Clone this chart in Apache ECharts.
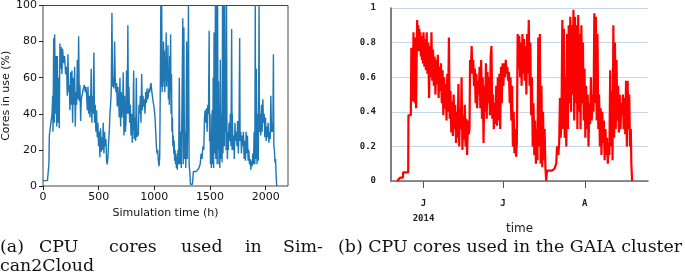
<!DOCTYPE html>
<html>
<head>
<meta charset="utf-8">
<script src="https://cdn.jsdelivr.net/npm/echarts@6/dist/echarts.min.js"></script>
<style>
  html, body { margin: 0; padding: 0; background: #fff; }
  #chart { width: 685px; height: 276px; }
</style>
</head>
<body>
<div id="chart"></div>
<script>
// (a) Simcan2Cloud: [hour, cores in use %]
const simcanTrace = [
  [0,3],[10,3],[20,3],[30,3],[40,3],[48,3],[53,12],[57,28],[65,29],[72,29],[81,40],[87,50],[90,30],[96,82],[102,35],[105,84],[111,40],[117,72],[123,33],[129,72],[135,35],[141,60],[146,32],[152,79],[158,65],[164,77],[170,62],[176,76],[185,68],[194,72],[203,62],[212,66],[218,50],[224,73],[230,52],[236,56],[242,42],[248,63],[254,45],[260,64],[266,35],[272,60],[278,45],[284,66],[290,33],[296,52],[302,45],[308,70],[314,48],[320,83],[326,47],[332,56],[338,36],[344,48],[353,47],[362,54],[371,56],[380,52],[386,55],[392,50],[398,42],[404,55],[410,40],[416,50],[422,38],[427,45],[433,65],[439,35],[445,50],[451,40],[457,74],[463,35],[469,45],[475,30],[481,42],[487,27],[493,35],[499,22],[505,30],[511,16],[517,32],[523,19],[529,27],[535,20],[541,35],[547,18],[553,30],[559,22],[565,26],[571,14],[577,12],[583,16],[589,24],[595,30],[601,40],[607,45],[613,53],[619,96],[625,55],[631,60],[637,54],[643,80],[649,58],[655,52],[661,57],[667,44],[673,55],[679,47],[685,38],[691,60],[697,33],[703,52],[709,38],[715,45],[721,63],[727,28],[733,50],[739,30],[745,35],[750,64],[756,40],
  [762,89],[767,40],[772,55],[778,35],[784,45],[790,28],[796,40],[802,24],[808,35],[814,64],[820,26],[826,38],[832,25],[838,60],[844,27],[850,30],[856,28],[862,45],[868,40],[874,50],[880,35],[886,62],[892,42],[898,50],[904,44],[910,48],[916,40],[922,52],[928,46],[934,54],[940,48],[946,50],[952,54],[958,52],[964,55],[970,57],[976,53],[982,50],[988,47],[994,45],[1000,42],[1006,38],[1012,30],[1018,22],[1024,18],[1030,20],[1036,14],[1042,11],[1048,16],[1054,60],[1058,100],[1062,55],[1066,100],[1070,52],[1074,70],[1078,55],[1082,80],[1086,58],[1090,75],[1094,52],[1098,65],[1102,60],[1106,85],[1110,55],[1114,70],[1118,58],[1122,78],[1126,48],[1130,65],[1134,45],[1138,72],[1142,52],[1146,84],[1150,40],[1154,62],[1158,30],[1162,38],[1166,22],[1170,28],[1174,18],[1178,25],[1182,14],[1186,20],[1190,12],[1194,18],[1198,10],[1202,16],[1206,9],[1212,20],[1218,12],[1224,60],[1230,12],[1236,30],[1242,10],[1248,45],[1255,93],[1259,12],[1265,88],[1270,15],[1276,30],[1282,10],[1290,80],[1295,15],[1300,40],[1306,100],[1312,12],[1318,8],[1324,1],[1332,1],[1342,1],[1350,8],[1362,8],[1375,8],[1388,9],[1400,10],
  [1411,12],[1420,18],[1428,15],[1436,22],[1444,20],[1450,38],[1456,42],[1462,35],[1468,43],[1474,30],[1480,45],[1486,40],[1492,86],[1496,25],[1500,40],[1504,12],[1508,30],[1512,10],[1516,38],[1520,42],[1524,12],[1528,60],[1532,10],[1536,85],[1540,18],[1544,45],[1548,100],[1552,15],[1556,100],[1560,30],[1564,12],[1568,100],[1572,20],[1576,58],[1580,12],[1584,35],[1588,10],[1592,70],[1596,30],[1600,15],[1604,40],[1608,13],[1612,100],[1616,18],[1620,35],[1624,100],[1628,22],[1632,100],[1636,30],[1640,60],[1644,20],[1648,100],[1652,25],[1656,15],[1660,30],[1664,20],[1670,35],[1676,25],[1682,40],[1688,22],[1694,87],[1698,20],
  [1700,40],[1706,20],[1712,28],[1718,15],[1724,35],[1730,25],[1736,30],[1742,22],[1748,36],[1754,18],[1760,30],[1766,82],[1770,25],[1776,30],[1782,18],[1788,28],[1794,22],[1800,30],[1806,15],[1812,25],[1818,14],[1824,30],[1830,18],[1836,28],[1842,14],[1848,20],[1854,12],[1860,15],[1866,9],[1872,14],[1878,11],[1884,18],[1890,12],[1896,30],[1902,12],[1906,100],[1910,15],[1916,65],[1922,12],[1928,40],[1934,14],[1940,100],[1944,30],[1950,40],[1956,28],[1962,45],[1968,30],[1974,48],[1980,35],[1986,40],[1992,27],[1998,38],[2004,25],[2010,33],[2016,27],[2022,35],[2028,24],[2034,30],[2040,26],[2046,50],[2052,30],[2058,35],[2064,30],[2069,73],[2073,22],[2078,20],[2083,13],[2088,15],[2094,5],[2099,0]
];
const simcanXTicks = [0, 500, 1000, 1500, 2000];

// (b) GAIA cluster: [days from 1 June 2014, fraction of cores]
const gaiaTrace = [
  [-10,0],[-8.8,0.02],[-7.8,0.02],[-7.7,0.05],[-5.8,0.05],[-5.7,0.38],[-4.8,0.38],
  [-4.6,0.77],[-4.4,0.5],[-4.2,0.75],[-4.0,0.46],[-3.8,0.86],[-3.6,0.55],[-3.4,0.8],[-3.2,0.45],[-3.0,0.83],[-2.8,0.42],[-2.6,0.7],[-2.4,0.93],[-2.2,0.78],[-2.0,0.9],[-1.8,0.75],[-1.6,0.88],[-1.4,0.76],[-1.2,0.86],[-1.0,0.72],[-0.8,0.84],[-0.6,0.7],[-0.4,0.8],[-0.2,0.68],[0,0.86],[0.3,0.66],[0.6,0.82],[0.9,0.64],[1.2,0.86],[1.5,0.62],[1.8,0.8],[2.1,0.48],[2.4,0.78],[2.7,0.6],[3.0,0.86],[3.3,0.58],[3.6,0.76],[3.9,0.55],[4.2,0.72],[4.5,0.5],[4.8,0.7],[5.1,0.56],[5.4,0.73],[5.7,0.48],[6.0,0.66],[6.3,0.52],[6.6,0.68],[6.9,0.45],[7.2,0.64],[7.5,0.38],[7.8,0.6],[8.1,0.42],[8.4,0.56],[8.7,0.35],[9.0,0.62],[9.3,0.4],[9.6,0.83],[9.9,0.36],[10.2,0.52],[10.5,0.28],[10.8,0.46],[11.1,0.26],[11.4,0.5],[11.7,0.3],[12.0,0.44],[12.3,0.22],[12.6,0.4],[12.9,0.25],[13.2,0.56],[13.5,0.2],[13.8,0.42],[14.1,0.3],[14.4,0.6],[14.7,0.18],[15.0,0.38],[15.3,0.24],[15.6,0.44],[15.9,0.2],[16.2,0.36],[16.5,0.15],[16.8,0.35],[17.1,0.27],[17.4,0.3],
  [17.6,0.7],[17.9,0.62],[18.2,0.78],[18.5,0.62],[18.8,0.7],[19.1,0.55],[19.4,0.65],[19.7,0.45],[20.0,0.62],[20.3,0.42],[20.6,0.58],[20.9,0.5],[21.2,0.66],[21.5,0.42],[21.8,0.7],[22.1,0.36],[22.4,0.6],[22.7,0.22],[23.0,0.55],[23.3,0.4],[23.6,0.68],[23.9,0.36],[24.2,0.63],[24.5,0.45],[24.8,0.6],[25.1,0.38],[25.4,0.72],[25.7,0.78],[26.0,0.36],[26.3,0.5],[26.6,0.3],[26.9,0.45],[27.2,0.33],[27.5,0.55],[27.8,0.32],[28.1,0.6],[28.4,0.35],[28.7,0.62],[29.0,0.3],[29.3,0.66],[29.6,0.45],[29.9,0.68],[30.2,0.55],[30.5,0.68],[30.8,0.6],[31.1,0.7],[31.4,0.62],[31.7,0.66],[32.0,0.58],[32.3,0.63],[32.6,0.45],[32.9,0.6],[33.2,0.35],[33.5,0.55],[33.8,0.2],[34.1,0.4],[34.4,0.16],[34.7,0.3],[35.0,0.14],[35.3,0.22],
  [35.6,0.85],[35.9,0.65],[36.2,0.84],[36.5,0.6],[36.8,0.8],[37.1,0.55],[37.4,0.85],[37.7,0.62],[38.0,0.82],[38.3,0.58],[38.6,0.78],[38.9,0.5],[39.2,0.85],[39.5,0.62],[39.8,0.93],[40.1,0.55],[40.4,0.8],[40.7,0.38],[41.0,0.6],[41.3,0.2],[41.6,0.45],[41.9,0.15],[42.2,0.35],[42.5,0.1],[42.8,0.3],[43.1,0.12],[43.4,0.83],[43.7,0.2],[44.0,0.85],[44.3,0.1],[44.6,0.55],[44.9,0.08],[45.2,0.4],[45.5,0.12],[45.8,0.3],[46.1,0.08],[46.4,0.0],[46.7,0.06],[48.5,0.06],[49.5,0.07],[50.2,0.1],[50.5,0.2],[51.0,0.15],[51.3,0.22],[51.6,0.48],[51.9,0.25],[52.2,0.4],
  [52.5,0.93],[52.8,0.3],[53.1,0.88],[53.4,0.25],[53.7,0.6],[54.0,0.2],[54.3,0.85],[54.6,0.3],[54.9,0.9],[55.2,0.45],[55.5,0.95],[55.8,0.4],[56.1,0.9],[56.4,0.5],[56.7,0.99],[57.0,0.35],[57.3,0.95],[57.6,0.45],[57.9,0.9],[58.2,0.3],[58.5,0.96],[58.8,0.4],[59.1,0.85],[59.4,0.3],[59.7,0.9],[60.0,0.45],[60.3,0.8],[60.6,0.35],[60.9,0.65],[61.2,0.25],[61.5,0.55],[61.8,0.3],[62.1,0.5],[62.4,0.2],[62.7,0.45],[63.0,0.33],[63.3,0.6],[63.6,0.35],[64.0,0.5],[64.3,0.4],[64.6,0.97],[64.9,0.45],[65.2,0.95],[65.5,0.35],[65.8,0.85],[66.1,0.3],[66.4,0.5],[66.7,0.2],[67.0,0.42],[67.3,0.15],[67.6,0.4],[67.9,0.22],[68.2,0.35],[68.5,0.12],[68.8,0.3],[69.1,0.15],[69.4,0.25],[69.7,0.1],[70.0,0.22],[70.3,0.15],[70.6,0.64],[70.9,0.2],[71.2,0.52],[71.5,0.12],[71.8,0.9],[72.1,0.25],[72.4,0.8],[72.7,0.3],[73.0,0.7],[73.3,0.35],[73.6,0.55],[73.9,0.28],[74.2,0.5],[74.5,0.3],[74.8,0.45],[75.1,0.38],[75.4,0.5],[75.7,0.3],[76.0,0.48],[76.3,0.27],[76.6,0.58],[76.9,0.2],[77.2,0.58],[77.5,0.3],[77.8,0.5],[78.1,0.2],[78.4,0.3],[78.6,0.1],[78.9,0]
];
// month ticks: 1 June, 1 July, 1 August
const gaiaMonthTicks = [0, 30, 61];
const gaiaMonthLabels = ['J\n2014', 'J', 'A'];

const chart = echarts.init(document.getElementById('chart'));

const mono = 'DejaVu Sans Mono';
const sans = 'DejaVu Sans';
const captionFont = '17.4px DejaVu Serif';

chart.setOption({
  animation: false,
  grid: [
    { left: 43, top: 4, width: 245, height: 182, show: true, borderColor: '#444', borderWidth: 1, backgroundColor: 'transparent' },
    { left: 391, top: 8, width: 257, height: 173 }
  ],
  xAxis: [
    {
      gridIndex: 0, type: 'value', min: 0, max: 2200,
      axisLine: { show: false },
      axisTick: { show: true, length: 4, lineStyle: { color: '#222' }, customValues: simcanXTicks },
      axisLabel: { color: '#111', fontFamily: sans, fontSize: 11, margin: 6, customValues: simcanXTicks, formatter: (v) => String(v) },
      splitLine: { show: false },
      name: 'Simulation time (h)', nameLocation: 'middle', nameGap: 21,
      nameTextStyle: { color: '#111', fontFamily: sans, fontSize: 11 }
    },
    {
      gridIndex: 1, type: 'value', min: -12.3, max: 84.9,
      axisLine: { show: true, onZero: false, lineStyle: { color: '#6a6a6a', width: 1.5 } },
      axisTick: { show: true, length: 7, lineStyle: { color: '#555', width: 1 }, customValues: gaiaMonthTicks },
      axisLabel: {
        color: '#222', fontFamily: mono, fontWeight: 'bold', fontSize: 9, margin: 15, lineHeight: 15,
        customValues: gaiaMonthTicks,
        formatter: (v) => gaiaMonthLabels[gaiaMonthTicks.indexOf(v)]
      },
      splitLine: { show: false },
      name: 'time', nameLocation: 'middle', nameGap: 42, nameMoveOverlap: false,
      nameTextStyle: { color: '#222', fontFamily: sans, fontSize: 12 }
    }
  ],
  yAxis: [
    {
      gridIndex: 0, type: 'value', min: 0, max: 100, interval: 20,
      axisLine: { show: false },
      axisTick: { show: true, length: 4, lineStyle: { color: '#222' } },
      axisLabel: { color: '#111', fontFamily: sans, fontSize: 11, margin: 6 },
      splitLine: { show: false },
      name: 'Cores in use (%)', nameLocation: 'middle', nameGap: 27, nameRotate: 90,
      nameTextStyle: { color: '#111', fontFamily: sans, fontSize: 11 }
    },
    {
      gridIndex: 1, type: 'value', min: 0, max: 1, interval: 0.2,
      axisLine: { show: true, onZero: false, lineStyle: { color: '#555', width: 1.5 } },
      axisTick: { show: false },
      axisLabel: {
        color: '#222', fontFamily: mono, fontWeight: 'bold', fontSize: 9, margin: 15,
        formatter: (v) => (v === 0 || v === 1) ? String(v) : v.toFixed(1)
      },
      splitLine: { show: true, lineStyle: { color: '#c5d6ec', width: 1 } }
    }
  ],
  series: [
    {
      type: 'line', xAxisIndex: 0, yAxisIndex: 0, data: simcanTrace,
      showSymbol: false, symbol: 'none',
      lineStyle: { color: '#1f77b4', width: 1.4 }
    },
    {
      type: 'line', xAxisIndex: 1, yAxisIndex: 1, data: gaiaTrace,
      showSymbol: false, symbol: 'none',
      lineStyle: { color: '#ff0000', width: 2.2 }
    }
  ],
  graphic: [
    { type: 'text', left: 0, top: 239, style: { text: '(a)', font: captionFont, fill: '#111' } },
    { type: 'text', left: 39, top: 239, style: { text: 'CPU', font: captionFont, fill: '#111' } },
    { type: 'text', left: 109, top: 239, style: { text: 'cores', font: captionFont, fill: '#111' } },
    { type: 'text', left: 181, top: 239, style: { text: 'used', font: captionFont, fill: '#111' } },
    { type: 'text', left: 245, top: 239, style: { text: 'in', font: captionFont, fill: '#111' } },
    { type: 'text', left: 283, top: 239, style: { text: 'Sim-', font: captionFont, fill: '#111' } },
    { type: 'text', left: 0, top: 258, style: { text: 'can2Cloud', font: captionFont, fill: '#111' } },
    { type: 'text', left: 338, top: 239, style: { text: '(b) CPU cores used in the GAIA cluster', font: captionFont, fill: '#111' } }
  ]
});
</script>
</body>
</html>
